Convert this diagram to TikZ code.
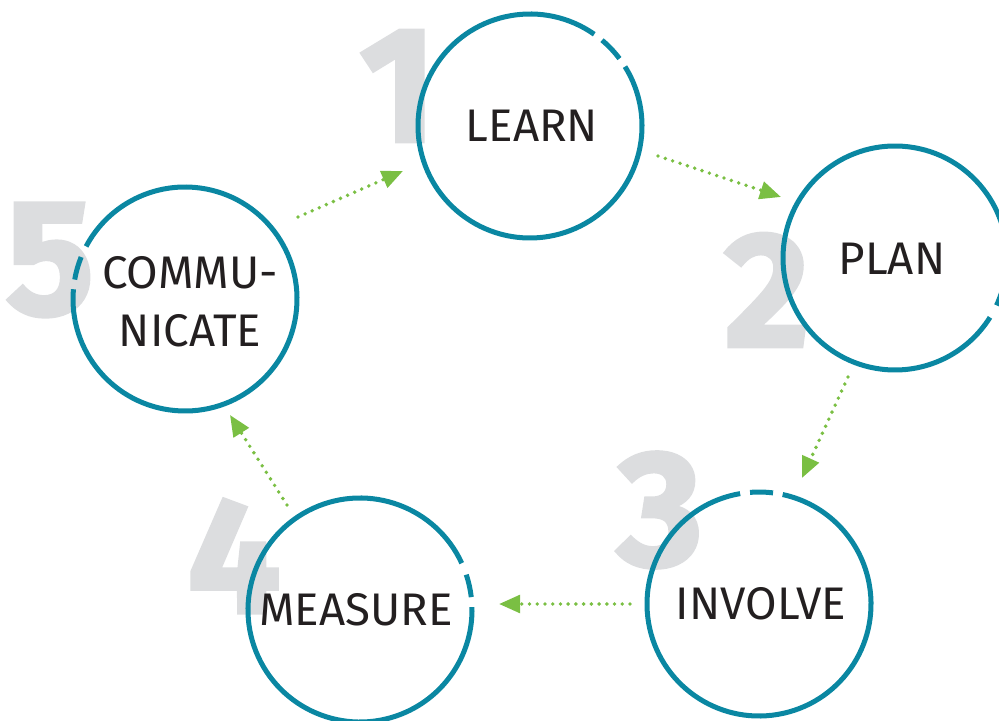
\documentclass[tikz,border=0pt]{standalone}
\usepackage{fontspec}
\setmainfont{Fira Sans}
\newfontfamily\numfont{Fira Sans}[BoldFeatures={FakeBold=2.5}]
\usetikzlibrary{arrows.meta}

\definecolor{ringteal}{HTML}{0A87A2}
\definecolor{flowgreen}{HTML}{7ABF43}
\definecolor{stepgray}{HTML}{DCDDDF}
\definecolor{labelink}{HTML}{231F20}

\tikzset{
  ring/.style={draw=ringteal, line width=2.85pt},
  stepnum/.style={inner sep=0pt, text=stepgray, font=\numfont\fontsize{93}{93}\selectfont\bfseries},
  stagelabel/.style={inner sep=0pt, text=labelink, align=center, font=\fontsize{26}{29}\selectfont},
  flowarrow/.style={draw=flowgreen, line width=2.2pt, line cap=round,
    dash pattern=on 0pt off 4.4pt, -{Triangle[length=12pt,width=10pt]}}
}

\begin{document}
\begin{tikzpicture}[x=0.02cm, y=0.02cm]

    \useasboundingbox (0,0) rectangle (999,720);

    % big step numbers behind the rings
    \node[stepnum] (num1) at (398,634) {1};
    \node[stepnum] (num2) at (767,430) {2};
    \node[stepnum] (num3) at (660,210) {3};
    \node[stepnum] (num4) at (234,164) {4};
    \node[stepnum] (num5) at (50,460) {5};

    % stages
    \node[stagelabel] (learn) at (530,594) {};
    \node[stagelabel] (plan) at (895,462) {};
    \node[stagelabel] (involve) at (759,116) {};
    \node[stagelabel] (measure) at (360,110) {};
    \node[stagelabel] (communicate) at (185,421) {};

    \node[stagelabel] at (532,594) {LEARN};
    \node[stagelabel] at (892,461) {PLAN};
    \node[stagelabel] at (761,116) {INVOLVE};
    \node[stagelabel] at (356,110) {MEASURE};
    \node[stagelabel] at (190,418) {COMMU-\\[4pt]NICATE};

    % rings with a short broken piece
    \draw[ring] ([shift={(55:112)}]learn.center) arc (55:392:112);
    \draw[ring] ([shift={(37:112)}]learn.center) arc (37:50:112);

    \draw[ring] ([shift={(-7:112)}]plan.center) arc (-7:328:112);
    \draw[ring] ([shift={(-25:112)}]plan.center) arc (-25:-12:112);

    \draw[ring] ([shift={(99.7:112)}]involve.center) arc (99.7:437.8:112);
    \draw[ring] ([shift={(82.8:112)}]involve.center) arc (82.8:94.6:112);

    \draw[ring] ([shift={(24.7:112)}]measure.center) arc (24.7:361.5:112);
    \draw[ring] ([shift={(6.6:112)}]measure.center) arc (6.6:18.4:112);

    \draw[ring] ([shift={(175:112)}]communicate.center) arc (175:512:112);
    \draw[ring] ([shift={(158:112)}]communicate.center) arc (158:170:112);

    % arrow ends
    \coordinate (c5out) at (298,503);
    \coordinate (c1in) at (403,549);
    \coordinate (c1out) at (658,564);
    \coordinate (c2in) at (781,523);
    \coordinate (c2out) at (848,343);
    \coordinate (c3in) at (802,242);
    \coordinate (c3out) at (630,116);
    \coordinate (c4in) at (499,116);
    \coordinate (c4out) at (287,215);
    \coordinate (c5in) at (230,305);

    \draw[flowarrow] (c5out) -- (c1in);
    \draw[flowarrow] (c1out) -- (c2in);
    \draw[flowarrow] (c2out) -- (c3in);
    \draw[flowarrow] (c3out) -- (c4in);
    \draw[flowarrow] (c4out) -- (c5in);

\end{tikzpicture}
\end{document}
